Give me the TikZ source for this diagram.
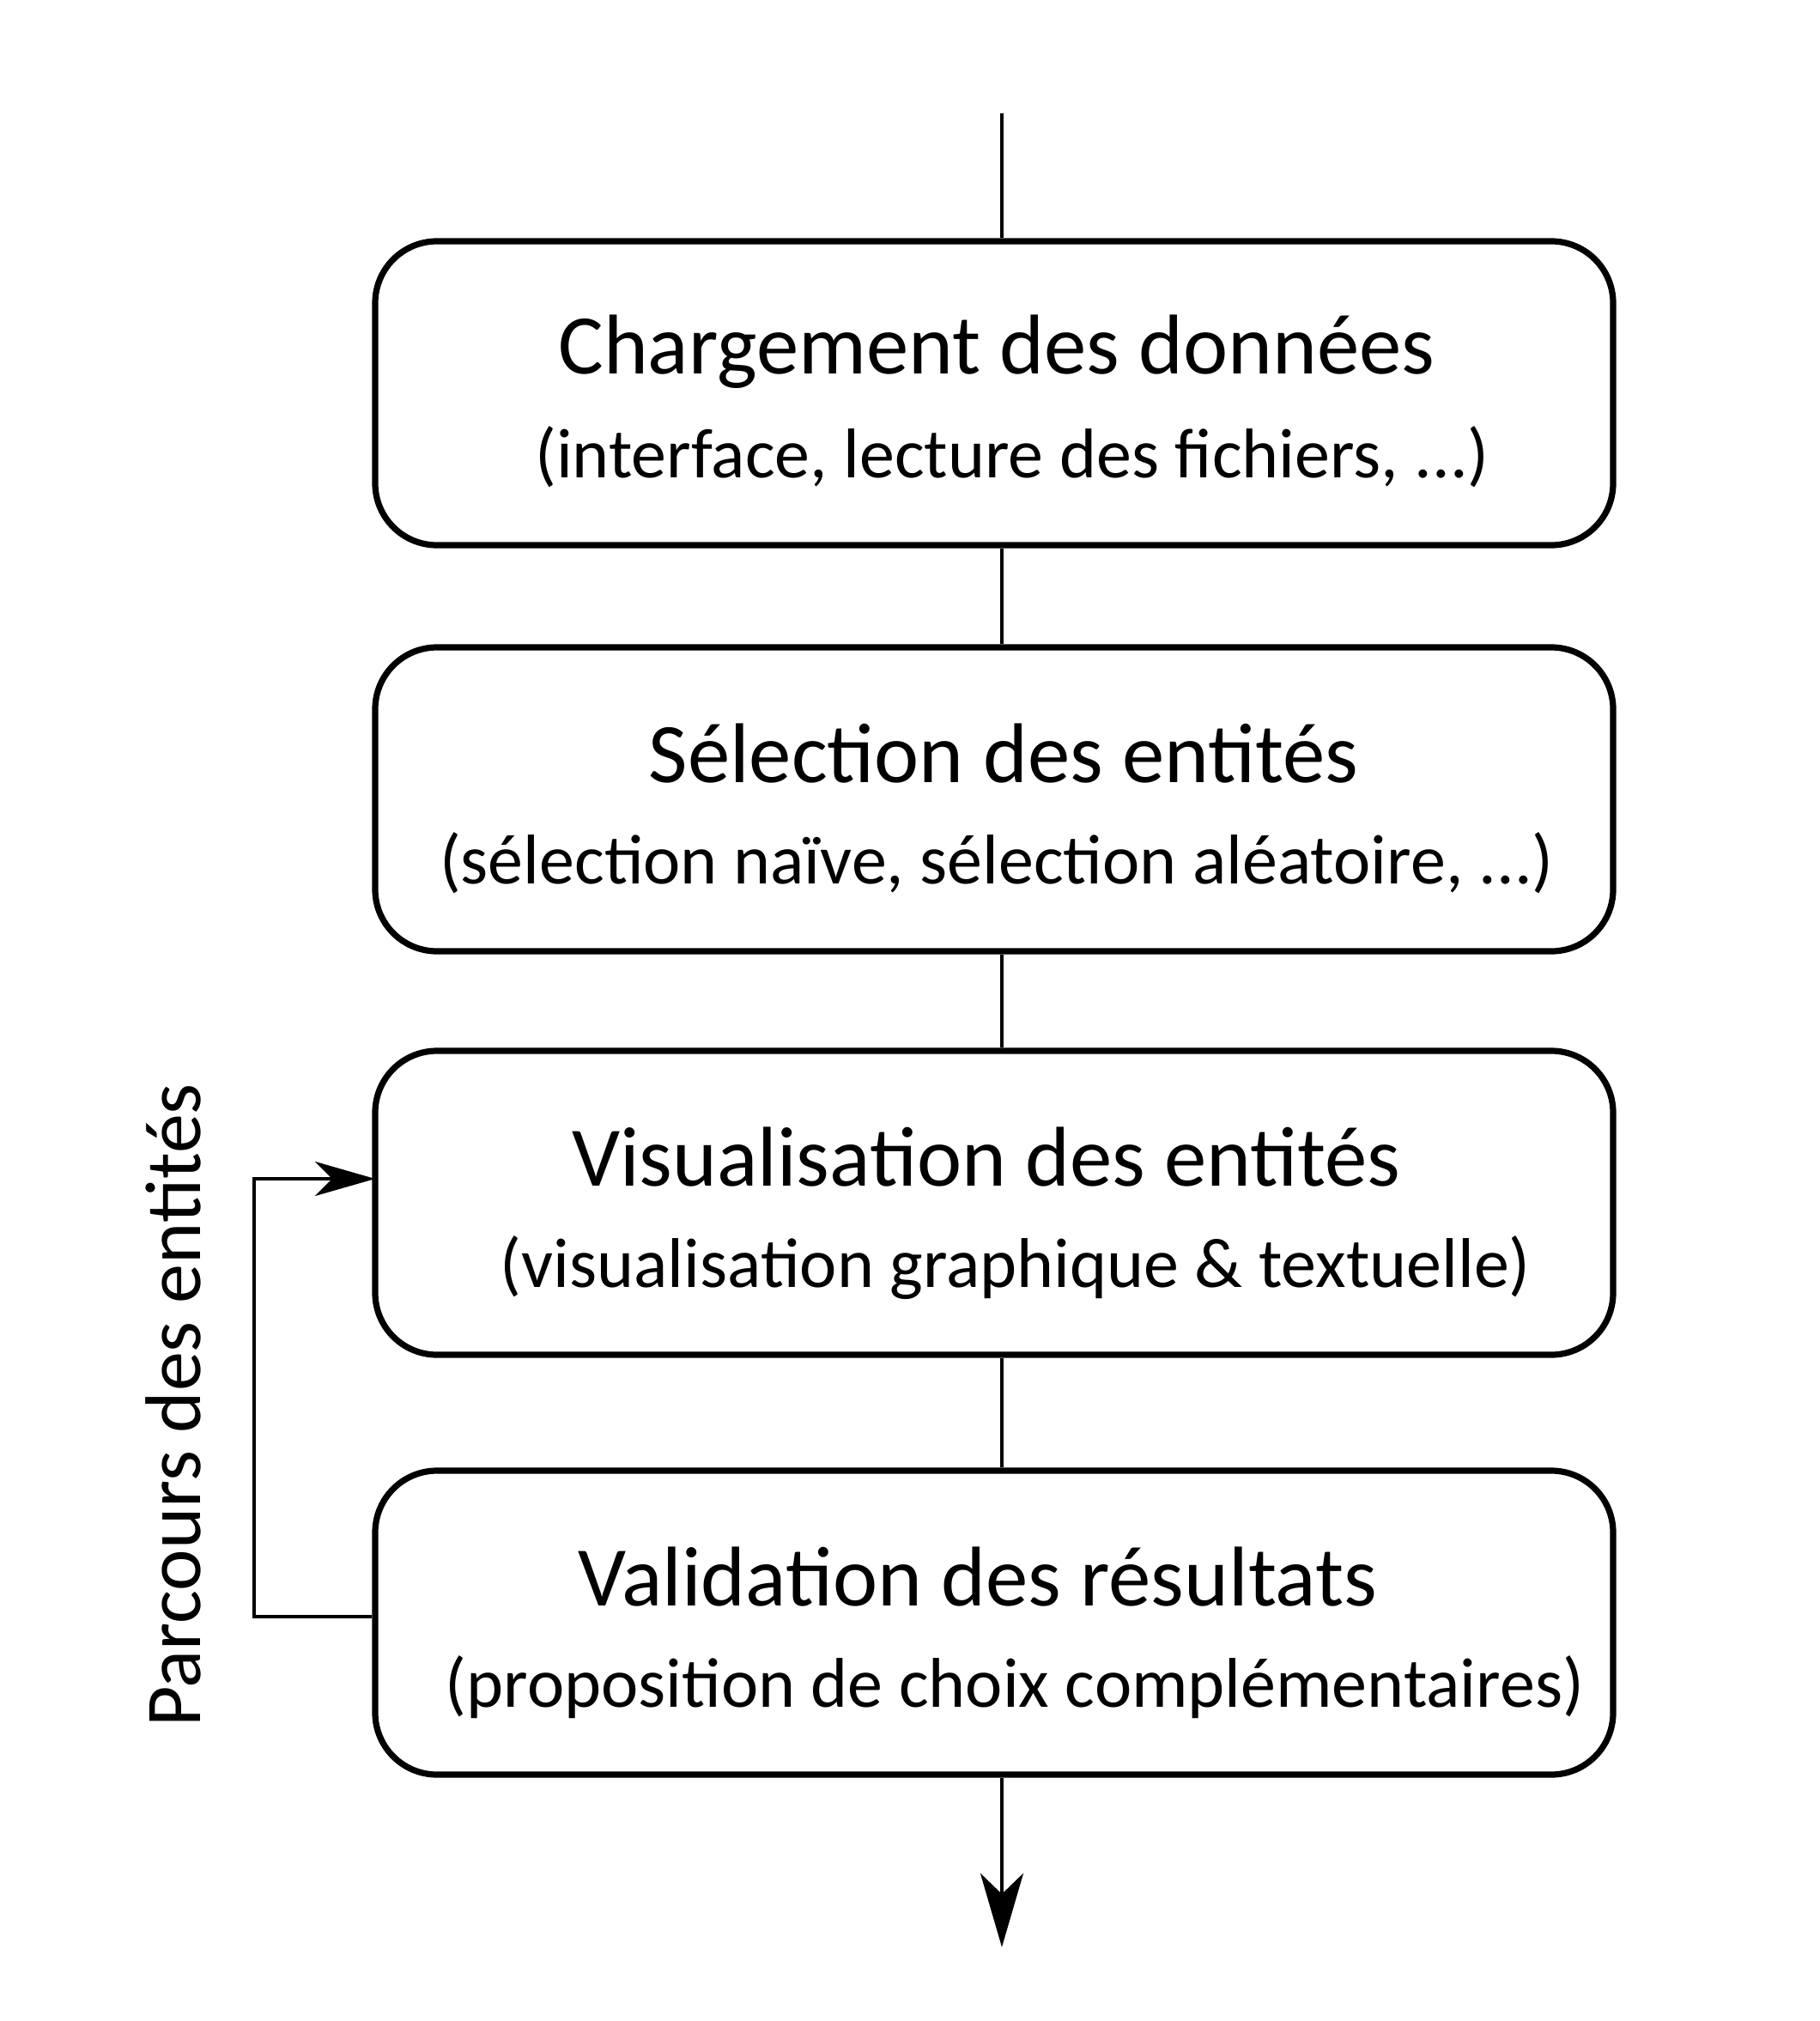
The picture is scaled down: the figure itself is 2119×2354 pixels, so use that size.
\documentclass[tikz,border=0pt]{standalone}
\usepackage{fontspec}
\setmainfont{Carlito}
\usetikzlibrary{arrows.meta}
\begin{document}
\begin{tikzpicture}[x=0.25pt,y=-0.25pt,
  box/.style={draw,line width=1.8pt,rounded corners=18pt,minimum width=360.5pt,minimum height=88.5pt,inner sep=0pt},
  ttl/.style={anchor=base,font=\fontsize{24.7}{28}\selectfont,inner sep=0pt},
  sub/.style={anchor=base,font=\fontsize{20.5}{24}\selectfont,inner sep=0pt},
  conn/.style={line width=1.1pt},
  fb/.style={line width=0.9pt}]
\path[use as bounding box] (0,0) rectangle (2119,2354);
\node[box] (b1) at (1158,458) {};
\node[box] (b2) at (1158,931) {};
\node[box] (b3) at (1158,1401) {};
\node[box] (b4) at (1158,1890) {};
\node[ttl] (t1) at (1161,435) {Chargement des données};
\node[sub] (s1) at (1179,556) {(interface, lecture des fichiers, ...)};
\node[ttl] (t2) at (1169,911) {Sélection des entités};
\node[sub] (s2) at (1161,1029) {(sélection naïve, sélection aléatoire, ...)};
\node[ttl] (t3) at (1149,1381) {Visualisation des entités};
\node[sub] (s3) at (1183,1499) {(visualisation graphique \& textuelle)};
\node[ttl] (t4) at (1139,1870) {Validation des résultats};
\node[sub] (s4) at (1182,1988) {(proposition de choix complémentaires)};
\node[anchor=base,rotate=90,font=\fontsize{23}{26}\selectfont,inner sep=0pt] (lab) at (233,1637) {Parcours des entités};
\coordinate (top) at (1167,132);
\coordinate (bot) at (1167,2268);
\coordinate (fbin) at (437,1373);
\draw[conn] (top) -- (top |- b1.north);
\draw[conn] (b1.south -| top) -- (b2.north -| top);
\draw[conn] (b2.south -| top) -- (b3.north -| top);
\draw[conn] (b3.south -| top) -- (b4.north -| top);
\draw[conn,-{Stealth[length=21.5pt,width=12.5pt,inset=6pt]}] (b4.south -| top) -- (bot);
\draw[fb,-{Stealth[length=17.5pt,width=10pt,inset=5pt]}] (b4.west |- 0,1883) -- (296,1883) |- (fbin);
\end{tikzpicture}
\end{document}
